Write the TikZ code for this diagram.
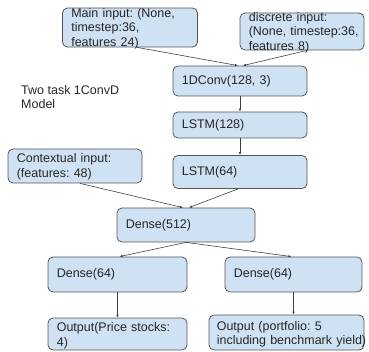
\documentclass[tikz,border=0pt]{standalone}
\usepackage{fontspec}
\setmainfont{Liberation Sans}
\usetikzlibrary{calc,arrows.meta}
\definecolor{boxfill}{HTML}{CFE2F3}
\definecolor{boxline}{HTML}{555555}
\definecolor{wirecol}{HTML}{404040}
\definecolor{inkcol}{HTML}{262626}
\frenchspacing
\begin{document}
\begin{tikzpicture}[x=1pt,y=-1pt,
  box/.style={draw=boxline, fill=boxfill, rounded corners=5pt, line width=0.8pt, inner sep=0pt},
  txt/.style={inner sep=0pt, align=left, font=\fontsize{12.5}{14.5}\selectfont, text=inkcol},
  wire/.style={draw=wirecol, line width=0.6pt, -{Latex[length=3pt,width=2.6pt]}}]
\useasboundingbox (0,0) rectangle (369,352);

% layer boxes
\node[box, minimum width=135pt, minimum height=39pt] (main)  at (130,27.5)   {};
\node[box, minimum width=124pt, minimum height=37pt] (disc)  at (302,31.5)   {};
\node[box, minimum width=134pt, minimum height=30pt] (conv)  at (240,81)     {};
\node[box, minimum width=134pt, minimum height=26pt] (lstmA) at (240,125)    {};
\node[box, minimum width=134pt, minimum height=33pt] (lstmB) at (240,172)    {};
\node[box, minimum width=134pt, minimum height=34pt] (ctx)   at (75,166)     {};
\node[box, minimum width=138pt, minimum height=34pt] (dense) at (186,225)    {};
\node[box, minimum width=139pt, minimum height=35pt] (dL)    at (117.5,274.5){};
\node[box, minimum width=137pt, minimum height=35pt] (dR)    at (293.5,274.5){};
\node[box, minimum width=139pt, minimum height=32pt] (oL)    at (117.5,334)  {};
\node[box, minimum width=155pt, minimum height=35pt] (oR)    at (286.5,332.5){};

% box texts
\node[txt, text width=125pt, anchor=west] (mainT)  at ($(main.west)+(9,1)$)  {Main input: (None,\\timestep:36,\\features 24)};
\node[txt, text width=114pt, anchor=west] (discT)  at ($(disc.west)+(9,1)$)  {discrete input:\\(None, timestep:36,\\features 8)};
\node[txt, text width=120pt, anchor=west] (convT)  at ($(conv.west)+(9,0)$)  {1DConv(128, 3)};
\node[txt, text width=120pt, anchor=west] (lstmAT) at ($(lstmA.west)+(9,0)$) {LSTM(128)};
\node[txt, text width=120pt, anchor=west] (lstmBT) at ($(lstmB.west)+(9,0)$) {LSTM(64)};
\node[txt, text width=124pt, anchor=west] (ctxT)   at ($(ctx.west)+(9,1)$)   {Contextual input:\\(features: 48)};
\node[txt, text width=124pt, anchor=west] (denseT) at ($(dense.west)+(9,0)$) {Dense(512)};
\node[txt, text width=124pt, anchor=west] (dLT)    at ($(dL.west)+(9,0)$)    {Dense(64)};
\node[txt, text width=124pt, anchor=west] (dRT)    at ($(dR.west)+(9,0)$)    {Dense(64)};
\node[txt, text width=130pt, anchor=west] (oLT)    at ($(oL.west)+(9,2)$)    {Output(Price stocks:\\4)};
\node[txt, text width=160pt, anchor=west] (oRT)    at ($(oR.west)+(8,2)$)    {Output (portfolio: 5\\including benchmark yield)};

% free caption
\node[txt, anchor=west] (title) at (21,97) {Two task 1ConvD\\Model};

% connectors
\draw[wire] ($(main.south)+(7,0)$) -- ($(conv.north)+(-2,0)$);
\draw[wire] ($(disc.south)+(5,0)$) -- ($(conv.north)+(3,0)$);
\draw[wire] (conv.south) -- (lstmA.north);
\draw[wire] (lstmA.south) -- (lstmB.north);
\draw[wire] ($(ctx.south)+(5,0)$) -- ($(dense.north)+(-3,0)$);
\draw[wire] ($(lstmB.south)+(-2,0)$) -- ($(dense.north)+(3,0)$);
\draw[wire] (dense.south) -- ($(dL.north)+(2,0)$);
\draw[wire] (dense.south) -- ($(dR.north)+(-2,0)$);
\draw[wire] (dL.south) -- (dL.south |- oL.north);
\draw[wire] (dR.south) -- (dR.south |- oR.north);
\end{tikzpicture}
\end{document}
